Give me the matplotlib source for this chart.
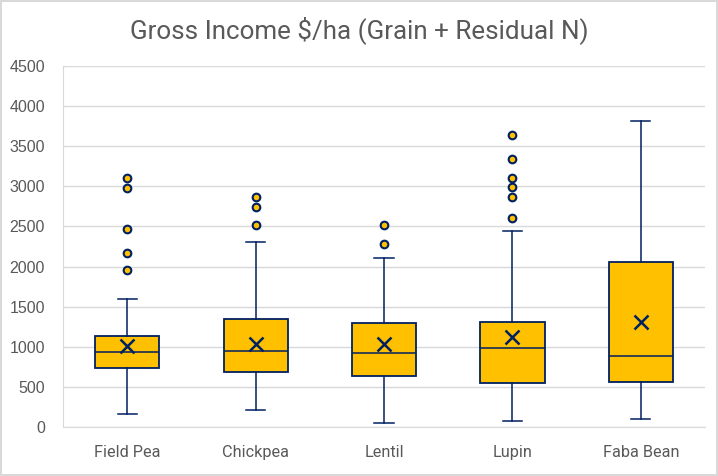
import matplotlib
matplotlib.use('Agg')
import matplotlib.pyplot as plt

# 各作物的箱型圖統計值
crops = ['Field Pea', 'Chickpea', 'Lentil', 'Lupin', 'Faba Bean']
whisker_low = [158, 208, 46, 71, 96]
q1 = [731, 682, 632, 545, 557]
median = [931, 943, 918, 981, 880]
q3 = [1130, 1342, 1293, 1305, 2053]
whisker_high = [1592, 2302, 2103, 2439, 3810]
mean = [1013, 1030, 1035, 1118, 1309]
outliers = [
    [3100, 2975, 2463, 2164, 1957],
    [2863, 2739, 2514],
    [2514, 2285],
    [3636, 3337, 3100, 2996, 2863, 2601],
    [],
]

plt.rcParams['font.family'] = ['Roboto', 'DejaVu Sans']

stats = []
for i, name in enumerate(crops):
    stats.append({
        'label': name,
        'whislo': whisker_low[i],
        'q1': q1[i],
        'med': median[i],
        'q3': q3[i],
        'whishi': whisker_high[i],
        'mean': mean[i],
        'fliers': outliers[i],
    })

navy = '#002060'
gold = '#FFC000'

fig = plt.figure(figsize=(7.18, 4.76), dpi=100, edgecolor='#d9d9d9', linewidth=1.5)
ax = fig.add_axes([63 / 718, 49 / 476, 642 / 718, 361 / 476])

ax.bxp(stats, widths=0.5, patch_artist=True, showmeans=True, capwidths=0.15,
       boxprops=dict(facecolor=gold, edgecolor=navy, linewidth=1.3),
       medianprops=dict(color=navy, linewidth=1.1),
       whiskerprops=dict(color=navy, linewidth=1.1),
       capprops=dict(color=navy, linewidth=1.1),
       meanprops=dict(marker='x', markeredgecolor=navy, markersize=10, markeredgewidth=1.8),
       flierprops=dict(marker='o', markerfacecolor=gold, markeredgecolor=navy,
                       markersize=5.5, markeredgewidth=1.5))

ax.set_xlim(0.5, 5.5)
ax.set_ylim(0, 4500)
ax.set_yticks(range(0, 4501, 500))
ax.set_yticklabels([str(v) for v in range(0, 4501, 500)], family='Liberation Sans')
ax.yaxis.grid(True, color='#d9d9d9', linewidth=1)
ax.set_axisbelow(True)
for s in ['top', 'right']:
    ax.spines[s].set_visible(False)
ax.spines['left'].set_color('#d9d9d9')
ax.spines['bottom'].set_color('#d9d9d9')
ax.tick_params(length=0, colors='#595959')
ax.tick_params(axis='x', pad=13, labelsize=11.7)
ax.tick_params(axis='y', pad=13, labelsize=11.5)

fig.suptitle('Gross Income $/ha (Grain + Residual N)', y=1 - 30 / 476, va='center',
             fontsize=18.7, color='#595959')

fig.savefig('out.png', dpi=100, edgecolor=fig.get_edgecolor())
